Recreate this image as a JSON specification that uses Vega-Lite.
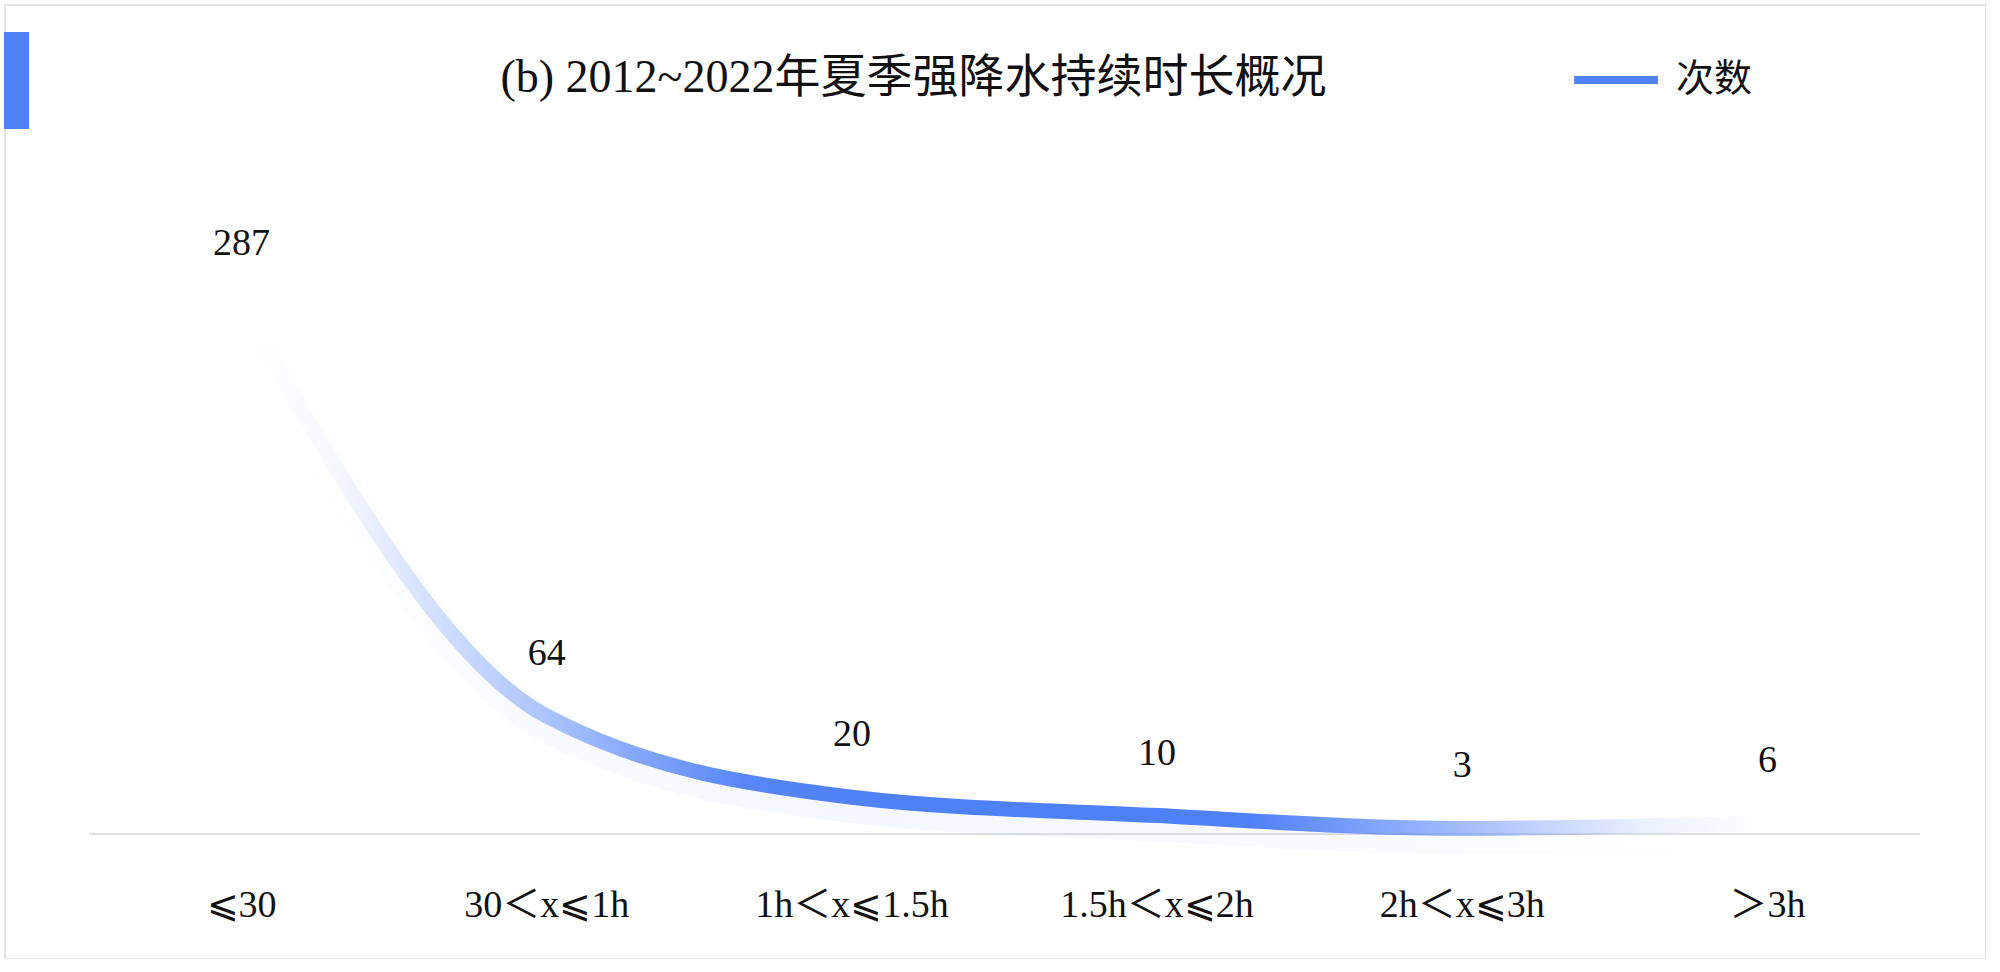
{
  "$schema": "https://vega.github.io/schema/vega-lite/v6.json",
  "width": 1981,
  "height": 954,
  "autosize": "none",
  "padding": {"left": 5, "top": 5, "right": 0, "bottom": 0},
  "background": "white",
  "config": {"view": {"stroke": "#e3e3e3", "strokeWidth": 2}, "font": "Liberation Serif"},
  "title": {
    "text": "(b) 2012~2022年夏季强降水持续时长概况",
    "font": "Liberation Serif, Noto Sans CJK SC",
    "fontSize": 46,
    "fontWeight": "normal",
    "color": "#111111",
    "anchor": "middle",
    "frame": "group",
    "offset": -74,
    "baseline": "middle",
    "dx": -82,
    "dy": 45
  },
  "data": {
    "values": [
      {"c": "⩽30", "v": 287},
      {"c": "30＜x⩽1h", "v": 64},
      {"c": "1h＜x⩽1.5h", "v": 20},
      {"c": "1.5h＜x⩽2h", "v": 10},
      {"c": "2h＜x⩽3h", "v": 3},
      {"c": "＞3h", "v": 6}
    ]
  },
  "layer": [
    {
      "mark": {"type": "bar", "color": "#e0e0e0"},
      "encoding": {
        "x": {
          "field": "c", "type": "nominal", "sort": null,
          "scale": {"type": "band", "paddingInner": 0, "paddingOuter": 0.2457, "align": 0.56},
          "axis": {
            "title": null, "orient": "bottom", "offset": -54, "ticks": false, "domain": false,
            "grid": false, "labelPadding": 0, "labelBaseline": "middle", "labelFontSize": 38,
            "labelLimit": 500,
            "labelFont": "Liberation Serif, Noto Sans CJK SC", "labelColor": "#111111", "labelAngle": 0
          }
        },
        "y": {
          "datum": 0.55, "type": "quantitative",
          "scale": {"domain": [-67.93, 450.54], "nice": false, "zero": false},
          "axis": null
        },
        "y2": {"datum": -0.55}
      }
    },
    {
      "mark": {
        "type": "line",
        "interpolate": "monotone",
        "strokeWidth": 34,
        "yOffset": 9,
        "strokeCap": "round",
        "stroke": {
          "gradient": "linear", "x1": 0, "y1": 0, "x2": 1, "y2": 0,
          "stops": [
            {"offset": 0, "color": "rgba(78,128,247,0)"},
            {"offset": 0.2, "color": "rgba(78,128,247,0.035)"},
            {"offset": 0.4, "color": "rgba(78,128,247,0.06)"},
            {"offset": 0.7, "color": "rgba(78,128,247,0.04)"},
            {"offset": 1, "color": "rgba(78,128,247,0)"}
          ]
        }
      },
      "encoding": {
        "x": {"field": "c", "type": "nominal", "sort": null},
        "y": {"field": "v", "type": "quantitative"}
      }
    },
    {
      "mark": {
        "type": "line",
        "interpolate": "monotone",
        "strokeWidth": 15,
        "strokeCap": "round",
        "stroke": {
          "gradient": "linear", "x1": 0, "y1": 0, "x2": 1, "y2": 0,
          "stops": [
            {"offset": 0, "color": "rgba(78,128,247,0)"},
            {"offset": 0.06, "color": "rgba(78,128,247,0.04)"},
            {"offset": 0.2, "color": "rgba(78,128,247,0.45)"},
            {"offset": 0.33, "color": "rgba(78,128,247,0.95)"},
            {"offset": 0.42, "color": "rgba(78,128,247,1)"},
            {"offset": 0.66, "color": "rgba(78,128,247,1)"},
            {"offset": 0.8, "color": "rgba(78,128,247,0.5)"},
            {"offset": 0.92, "color": "rgba(78,128,247,0.1)"},
            {"offset": 1, "color": "rgba(78,128,247,0)"}
          ]
        }
      },
      "encoding": {
        "x": {"field": "c", "type": "nominal", "sort": null},
        "y": {"field": "v", "type": "quantitative"}
      }
    },
    {
      "mark": {"type": "text", "dy": -62, "fontSize": 38, "font": "Liberation Serif", "color": "#111111"},
      "encoding": {
        "x": {"field": "c", "type": "nominal", "sort": null},
        "y": {"field": "v", "type": "quantitative"},
        "text": {"field": "v", "type": "quantitative"}
      }
    },
    {
      "mark": {"type": "point", "opacity": 0},
      "encoding": {
        "color": {
          "datum": "次数", "type": "nominal",
          "scale": {"range": ["#4e80f7"]},
          "legend": {
            "orient": "none", "legendX": 1565, "legendY": 29, "title": null,
            "symbolType": "stroke", "symbolSize": 7000, "symbolStrokeWidth": 8,
            "symbolOpacity": 1, "labelFontSize": 38, "labelFont": "Noto Sans CJK SC",
            "labelColor": "#111111", "labelOffset": 14, "padding": 0
          }
        }
      }
    },
    {
      "mark": {"type": "point", "opacity": 0, "filled": true, "color": "#4e80f7"},
      "encoding": {
        "shape": {
          "datum": "deco", "type": "nominal",
          "scale": {"range": ["M-0.2577,-1H0.2577V1H-0.2577Z"]},
          "legend": {
            "orient": "none", "legendX": -37, "legendY": 27, "title": null,
            "symbolSize": 9409, "symbolFillColor": "#4e80f7", "symbolStrokeWidth": 0,
            "symbolOpacity": 1, "labelExpr": "''", "padding": 0
          }
        }
      }
    }
  ]
}
